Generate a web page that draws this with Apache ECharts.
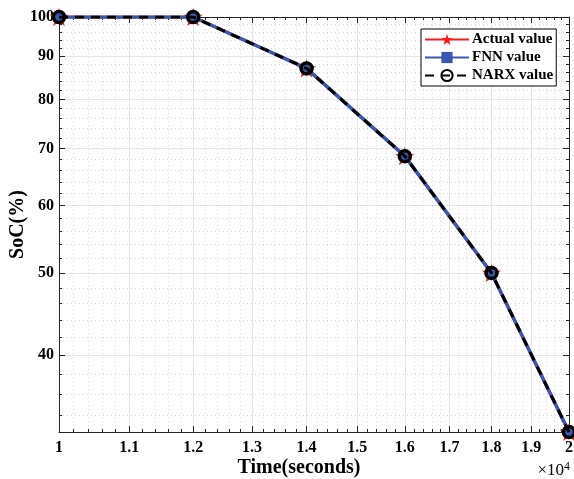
<!DOCTYPE html>
<html>
<head>
<meta charset="utf-8">
<script src="https://cdn.jsdelivr.net/npm/echarts@6/dist/echarts.min.js"></script>
<style>html,body{margin:0;padding:0;background:#fff}#c{width:574px;height:479px}</style>
</head>
<body>
<div id="c"></div>
<script>
const timeSec = [10000, 12000, 14000, 16000, 18000, 20000];
const actualSoC = [100, 100, 87, 68.6, 50, 32.5];
const fnnSoC = [100, 100, 87, 68.6, 50, 32.5];
const narxSoC = [100, 100, 87, 68.6, 50, 32.5];
const xMajorTicks = [10000, 11000, 12000, 13000, 14000, 15000, 16000, 17000, 18000, 19000, 20000];
const xTickLabels = ['1', '1.1', '1.2', '1.3', '1.4', '1.5', '1.6', '1.7', '1.8', '1.9', '2'];
const yMajorTicks = [40, 50, 60, 70, 80, 90, 100];
const yTickLabels = ['40', '50', '60', '70', '80', '90', '100'];
const xMin = 10000, xMax = 20000, yMin = 32.5, yMax = 100;

const xMinorTicks = [];
for (let v = 10200; v < 20000; v += 200) if (v % 1000 !== 0) xMinorTicks.push(v);
const yMinorTicks = [];
for (let v = 34; v < 100; v += 2) if (v % 10 !== 0) yMinorTicks.push(v);

const FONT = '"Liberation Serif", "Times New Roman", serif';
const STAR = 'path://M0,-10L2.35,-3.24L9.51,-3.09L3.8,1.24L5.88,8.09L0,4L-5.88,8.09L-3.8,1.24L-9.51,-3.09L-2.35,-3.24Z';

function pairs(ys) { return timeSec.map((t, i) => [t, ys[i]]); }

function xAx(pos, major, withLabels) {
  return {
    type: 'log', logBase: 10, position: pos, min: xMin, max: xMax,
    name: withLabels ? 'Time(seconds)' : '',
    nameLocation: 'middle', nameGap: 26, nameMoveOverlap: false,
    nameTextStyle: { fontFamily: FONT, fontWeight: 'bold', fontSize: 20, color: '#000', padding: [0, 30, 0, 0] },
    axisLine: { show: major, onZero: false, lineStyle: { color: '#262626', width: 1 } },
    axisTick: { show: true, inside: true, length: major ? 6 : 3, customValues: major ? xMajorTicks : xMinorTicks, lineStyle: { color: '#262626', width: 1 } },
    axisLabel: withLabels ? {
      show: true, customValues: xMajorTicks, margin: 8,
      formatter: v => xTickLabels[xMajorTicks.indexOf(Math.round(v))] ?? '',
      fontFamily: FONT, fontWeight: 'bold', fontSize: 16, color: '#000'
    } : { show: false },
    splitLine: (pos === 'bottom') ? (major ? { show: true, lineStyle: { color: '#e6e6e6', width: 1 } } : { show: true, lineStyle: { color: '#d6d6d6', width: 1, type: [1, 3] } }) : { show: false },
    minorTick: { show: false }, minorSplitLine: { show: false }
  };
}
function yAx(pos, major, withLabels) {
  return {
    type: 'log', logBase: 10, position: pos, min: yMin, max: yMax,
    name: withLabels ? 'SoC(%)' : '',
    nameLocation: 'middle', nameGap: 31, nameRotate: 90, nameMoveOverlap: false,
    nameTextStyle: { fontFamily: FONT, fontWeight: 'bold', fontSize: 20, color: '#000' },
    axisLine: { show: major, onZero: false, lineStyle: { color: '#262626', width: 1 } },
    axisTick: { show: true, inside: true, length: major ? 6 : 3, customValues: major ? yMajorTicks : yMinorTicks, lineStyle: { color: '#262626', width: 1 } },
    axisLabel: withLabels ? {
      show: true, customValues: yMajorTicks, margin: 5,
      formatter: v => yTickLabels[yMajorTicks.indexOf(Math.round(v))] ?? '',
      fontFamily: FONT, fontWeight: 'bold', fontSize: 16, color: '#000'
    } : { show: false },
    splitLine: (pos === 'left') ? (major ? { show: true, lineStyle: { color: '#e6e6e6', width: 1 } } : { show: true, lineStyle: { color: '#d6d6d6', width: 1, type: [1, 3] } }) : { show: false },
    minorTick: { show: false }, minorSplitLine: { show: false }
  };
}

const chart = echarts.init(document.getElementById('c'), null, { renderer: 'canvas' });
chart.setOption({
  animation: false,
  backgroundColor: '#fff',
  grid: { left: 59, right: 5, top: 17, bottom: 47, containLabel: false, outerBoundsMode: 'none' },
  xAxis: [xAx('bottom', true, true), xAx('bottom', false, false), xAx('top', true, false), xAx('top', false, false)],
  yAxis: [yAx('left', true, true), yAx('left', false, false), yAx('right', true, false), yAx('right', false, false)],
  legend: {
    left: 421, top: 29, orient: 'vertical',
    itemWidth: 44, itemHeight: 14, itemGap: 3,
    padding: [3, 3, 3, 3],
    borderColor: '#000', borderWidth: 1, backgroundColor: '#fff',
    textStyle: { fontFamily: FONT, fontWeight: 'bold', fontSize: 15, color: '#000', padding: [0, 0, 0, -2] },
    data: ['Actual value', 'FNN value', 'NARX value']
  },
  graphic: [{
    type: 'text', right: 4, top: 461,
    style: {
      text: '×10{s|4}', font: '17px ' + FONT, fill: '#000',
      rich: { s: { fontSize: 12, fontFamily: FONT, verticalAlign: 'top', padding: [0, 0, 8, 0] } }
    }
  }],
  series: [
    {
      name: 'Actual value', type: 'line', xAxisIndex: 0, yAxisIndex: 0,
      data: pairs(actualSoC), symbol: STAR, symbolSize: 19, symbolKeepAspect: true,
      lineStyle: { color: '#ff1a1a', width: 3 }, itemStyle: { color: '#ff1a1a' }, z: 2
    },
    {
      name: 'FNN value', type: 'line', xAxisIndex: 0, yAxisIndex: 0,
      data: pairs(fnnSoC), symbol: 'rect', symbolSize: 8,
      lineStyle: { color: '#3a57b0', width: 3.5 }, itemStyle: { color: '#3a57b0' }, z: 3
    },
    {
      name: 'NARX value', type: 'line', xAxisIndex: 0, yAxisIndex: 0,
      data: pairs(narxSoC), symbol: 'circle', symbolSize: 11,
      lineStyle: { color: '#000', width: 3, type: [9, 7] },
      itemStyle: { color: 'rgba(0,0,0,0)', borderColor: '#000', borderWidth: 3.5 }, z: 4
    }
  ]
});
</script>
</body>
</html>
